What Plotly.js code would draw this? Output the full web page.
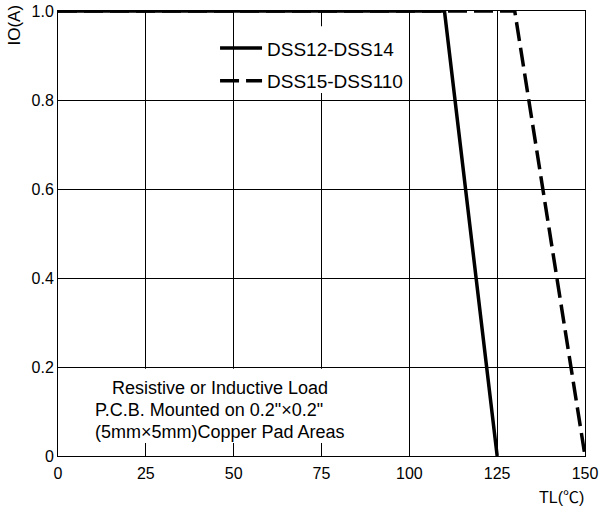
<!DOCTYPE html>
<html>
<head>
<meta charset="utf-8">
<script src="https://cdn.plot.ly/plotly-3.0.1.min.js"></script>
<style>html,body{margin:0;padding:0;background:#fff;}#chart{width:600px;height:509px;}</style>
</head>
<body>
<div id="chart"></div>
<script>
// Data
const seriesNames = ["DSS12-DSS14", "DSS15-DSS110"];
const tempA = [0, 110, 125];
const currentA = [1.0, 1.0, 0];
const tempB = [0, 130, 150];
const currentB = [1.0, 1.0, 0];
const xTickVals = [0, 25, 50, 75, 100, 125, 150];
const xTickText = ["0", "25", "50", "75", "100", "125", "150"];
const yTickVals = [0, 0.2, 0.4, 0.6, 0.8, 1.0];
const yTickText = ["0", "0.2", "0.4", "0.6", "0.8", "1.0"];
const noteLines = ["Resistive or Inductive Load", "P.C.B. Mounted on 0.2\"×0.2\"", "(5mm×5mm)Copper Pad Areas"];

const FONT = "'Liberation Sans', Arial, 'Noto Sans CJK SC', sans-serif";

const traces = [
  {x: tempA, y: currentA, name: seriesNames[0], type: 'scatter', mode: 'lines',
   line: {color: '#000', width: 3.5}, cliponaxis: false, legendgroup: 'a'},
  {x: tempB, y: currentB, name: seriesNames[1], type: 'scatter', mode: 'lines',
   line: {color: '#000', width: 3.5, dash: '19px,7px'}, cliponaxis: false, legendgroup: 'b'}
];

const layout = {
  width: 600, height: 509,
  margin: {l: 58, r: 15, t: 11, b: 53},
  paper_bgcolor: '#fff', plot_bgcolor: '#fff',
  font: {family: FONT, size: 16, color: '#000'},
  showlegend: true,
  legend: {x: 0.298, y: 0.959, xanchor: 'left', yanchor: 'top', bgcolor: 'rgba(0,0,0,0)',
           borderwidth: 0, font: {size: 19, family: FONT}, traceorder: 'grouped', tracegroupgap: 5,
           itemwidth: 42},
  xaxis: {range: [0, 150], tickvals: xTickVals, ticktext: xTickText, showgrid: true,
          gridcolor: '#000', gridwidth: 1, showline: true, linecolor: '#000', linewidth: 1,
          mirror: true, zeroline: false, ticks: '', tickfont: {size: 16}, fixedrange: true,
          ticklabelstandoff: 3},
  yaxis: {range: [0, 1], tickvals: yTickVals, ticktext: yTickText, showgrid: true,
          gridcolor: '#000', gridwidth: 1, showline: true, linecolor: '#000', linewidth: 1,
          mirror: true, zeroline: false, ticks: '', tickfont: {size: 16}, fixedrange: true},
  shapes: [
    {type: 'rect', xref: 'x', yref: 'y', x0: 0.5, x1: 86, y0: 0.029, y1: 0.196,
     fillcolor: '#fff', line: {width: 0}, layer: 'between'},
    {type: 'rect', xref: 'x', yref: 'y', x0: 51.8, x1: 98.8, y0: 0.816, y1: 0.966,
     fillcolor: '#fff', line: {width: 0}, layer: 'between'}
  ],
  annotations: [
    {text: 'IO(A)', xref: 'paper', yref: 'paper', x: -0.083, y: 0.968, textangle: -90,
     showarrow: false, font: {size: 17}, xanchor: 'center', yanchor: 'middle'},
    {text: 'TL(℃)', xref: 'paper', yref: 'paper', x: 1.002, y: -0.094, xanchor: 'right', yanchor: 'middle',
     showarrow: false, font: {size: 16}},
    {text: noteLines[0], xref: 'x', yref: 'y', x: 14.8, y: 0.152, xanchor: 'left', yanchor: 'middle', showarrow: false, font: {size: 18}},
    {text: noteLines[1], xref: 'x', yref: 'y', x: 10.0, y: 0.103, xanchor: 'left', yanchor: 'middle', showarrow: false, font: {size: 18}},
    {text: noteLines[2], xref: 'x', yref: 'y', x: 10.0, y: 0.054, xanchor: 'left', yanchor: 'middle', showarrow: false, font: {size: 18}}
  ]
};

Plotly.newPlot('chart', traces, layout, {displayModeBar: false, staticPlot: true});
</script>
</body>
</html>
